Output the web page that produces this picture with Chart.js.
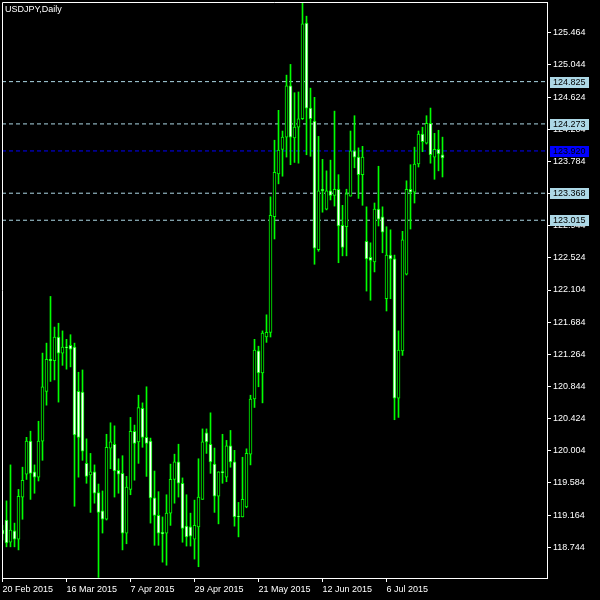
<!DOCTYPE html>
<html lang="en">
<head>
<meta charset="UTF-8">
<title>USDJPY,Daily</title>
<script src="https://cdn.jsdelivr.net/npm/chart.js"></script>
<style>
  html, body { margin: 0; padding: 0; background: #000; }
  canvas { display: block; }
</style>
</head>
<body>
<canvas id="chart" width="600" height="600"></canvas>
<script>
// daily bars, index 0 = 20 Feb 2015 (weekdays only)
const opens = [118.97,119.10,118.81,118.96,118.85,119.40,119.70,120.13,119.73,119.66,
  120.13,120.78,121.20,121.18,121.49,121.28,121.36,121.38,121.36,120.78,
  120.77,119.84,119.69,119.73,119.46,119.22,119.11,120.04,120.09,119.75,
  119.71,118.93,119.50,120.26,120.12,120.56,120.18,120.13,119.39,119.16,
  118.94,118.93,119.19,119.63,119.86,119.58,119.02,119.01,118.85,119.01,
  119.37,120.24,120.09,119.83,119.41,119.73,119.66,120.07,119.86,119.15,
  119.14,119.27,119.96,120.68,121.31,121.02,121.49,121.55,123.06,123.62,
  123.94,124.10,124.77,124.09,124.23,124.34,125.59,124.48,124.31,122.63,
  123.42,123.16,123.40,123.34,123.42,122.95,122.93,123.33,123.92,123.84,
  123.61,122.74,122.53,122.47,123.16,123.06,121.99,122.56,122.51,120.69,
  121.31,122.31,123.42,123.38,123.75,124.14,124.02,124.28,123.84,123.94,
  123.87];
const highs = [119.03,119.35,119.82,119.06,119.50,119.79,120.18,120.26,119.82,120.39,
  121.28,121.41,122.02,121.62,121.67,121.57,121.46,121.52,121.41,121.03,
  121.06,120.16,119.97,119.82,119.57,119.48,120.22,120.37,120.33,119.90,
  119.94,119.67,120.44,120.34,120.73,120.63,120.84,120.17,119.74,119.47,
  119.14,119.43,119.83,119.96,120.09,119.65,119.43,119.19,119.36,119.90,
  120.29,120.29,120.50,120.04,119.73,120.22,120.14,120.27,120.01,119.33,
  119.92,120.03,120.73,121.46,121.37,121.57,121.78,123.32,124.06,124.45,
  124.18,124.91,125.05,124.68,124.69,125.85,125.68,124.74,124.62,124.11,
  123.81,123.66,123.80,124.44,123.61,123.21,123.42,124.18,124.38,123.96,
  123.98,123.19,122.72,123.24,123.72,123.19,122.93,122.89,122.56,121.57,
  122.87,123.53,123.74,123.97,124.18,124.23,124.38,124.48,124.15,124.19,
  124.10];
const lows = [118.84,118.75,118.75,118.75,118.71,119.11,119.63,119.37,119.45,119.61,
  119.88,120.60,120.91,120.93,120.64,121.12,121.07,121.10,119.28,119.66,
  119.88,119.58,119.20,119.32,118.35,118.93,119.10,119.77,119.40,119.45,
  118.71,118.79,119.43,119.62,119.84,120.05,119.67,119.06,118.77,118.77,
  118.55,118.51,119.03,119.32,119.40,118.81,118.76,118.76,118.59,118.49,
  119.37,119.97,119.71,119.20,119.05,119.58,119.60,119.79,119.02,118.88,
  119.14,119.26,119.82,120.57,120.84,120.63,121.42,121.49,122.77,123.49,
  123.59,123.84,123.74,123.77,123.76,124.33,123.87,123.85,122.44,122.61,
  123.12,123.15,123.28,123.20,122.46,122.55,122.55,123.33,123.70,123.30,
  123.21,122.09,121.97,122.34,122.94,122.59,121.83,121.99,120.41,120.44,
  121.25,122.30,122.90,123.24,123.71,123.91,124.01,123.76,123.55,123.66,
  123.58];
const closes = [118.92,118.80,118.97,118.85,119.41,119.62,120.13,119.71,119.66,120.13,
  120.84,121.20,121.18,121.49,121.28,121.36,121.35,121.33,120.21,120.18,
  120.00,119.67,119.73,119.45,119.20,119.11,120.05,120.12,119.74,119.70,
  118.93,119.53,120.26,120.10,120.57,120.18,120.10,119.39,119.16,118.93,
  118.92,119.19,119.63,119.86,119.58,118.99,118.88,118.89,119.03,119.40,
  120.12,120.12,119.86,119.41,119.73,119.72,120.07,119.86,119.14,119.14,
  119.37,119.97,120.68,121.32,121.02,121.54,121.55,123.08,123.64,123.93,
  124.10,124.77,124.10,124.23,124.34,125.58,124.48,124.34,122.65,123.40,
  123.40,123.40,123.34,123.42,122.94,122.66,123.36,123.92,123.84,123.61,
  123.84,122.51,122.49,123.16,123.03,122.86,122.56,122.51,120.69,121.32,
  122.76,123.42,123.38,123.75,124.14,124.04,124.28,123.87,123.94,123.88,
  123.83];

const xTickIdx = [0, 16, 32, 48, 64, 80, 96];
const xTickLabels = ['20 Feb 2015', '16 Mar 2015', '7 Apr 2015', '29 Apr 2015',
  '21 May 2015', '12 Jun 2015', '6 Jul 2015'];
const yTicks = [125.464, 125.044, 124.624, 124.204, 123.784, 123.364, 122.944, 122.524,
  122.104, 121.684, 121.264, 120.844, 120.424, 120.004, 119.584, 119.164, 118.744];
const levels = [124.825, 124.273, 123.368, 123.015];
const bidPrice = 123.920;

const LIME = '#00ff00';
const LEVEL_COLOR = '#add8e6';
const FONT = { family: 'Liberation Sans', size: 9 };
const X_MIN = -0.125, X_MAX = 136.125;

const bodies = opens.map((o, i) => ({ x: i, y: [o, closes[i]] }));
const wicks = lows.map((l, i) => ({ x: i, y: [l, highs[i]] }));
const levelLine = (v, color) => ({
  type: 'line',
  data: [{ x: X_MIN, y: v }, { x: X_MAX, y: v }],
  borderColor: color,
  borderWidth: 1,
  borderDash: [4, 3],
  pointRadius: 0,
  order: 5
});

// title, frame and price tags on the right scale
const overlay = {
  id: 'overlay',
  afterDatasetsDraw(chart) {
    const { ctx, chartArea: a } = chart;
    ctx.save();
    ctx.strokeStyle = '#fff';
    ctx.lineWidth = 1;
    ctx.beginPath();
    ctx.moveTo(Math.floor(a.left) + 0.5, Math.ceil(a.bottom));
    ctx.lineTo(Math.floor(a.left) + 0.5, Math.floor(a.top) + 0.5);
    ctx.lineTo(Math.ceil(a.right), Math.floor(a.top) + 0.5);
    ctx.stroke();
    ctx.restore();
  },
  afterDraw(chart) {
    const { ctx } = chart;
    const y = chart.scales.y;
    ctx.save();
    ctx.font = FONT.size + 'px ' + FONT.family;
    ctx.textBaseline = 'top';
    ctx.fillStyle = '#fff';
    ctx.fillText('USDJPY,Daily', 5, 5);

    ctx.textBaseline = 'middle';
    const tag = (v, bg, fg) => {
      const py = Math.round(y.getPixelForValue(v));
      ctx.fillStyle = bg;
      ctx.fillRect(550, py - 5, 39, 11);
      ctx.fillStyle = fg;
      ctx.fillText(v.toFixed(3), 553, py + 0.5);
    };
    levels.forEach(v => tag(v, LEVEL_COLOR, '#000'));
    tag(bidPrice, '#0000ff', '#000');
    ctx.restore();
  }
};

new Chart(document.getElementById('chart'), {
  type: 'bar',
  data: {
    datasets: [
      {
        data: bodies,
        barThickness: 3,
        borderWidth: 1,
        borderSkipped: false,
        borderColor: LIME,
        minBarLength: 1,
        backgroundColor: ctx => {
          const r = ctx.raw;
          return r && r.y[1] < r.y[0] ? '#ffffff' : '#000000';
        },
        grouped: false,
        order: 1
      },
      {
        data: wicks,
        barThickness: 1,
        borderWidth: 0,
        backgroundColor: LIME,
        grouped: false,
        order: 2
      },
      ...levels.map(v => levelLine(v, LEVEL_COLOR)),
      levelLine(bidPrice, '#0000ff')
    ]
  },
  options: {
    responsive: false,
    animation: false,
    events: [],
    layout: { padding: { left: 2, top: 2, right: 0, bottom: 0 } },
    plugins: { legend: { display: false }, tooltip: { enabled: false } },
    scales: {
      x: {
        type: 'linear',
        offset: false,
        min: X_MIN,
        max: X_MAX,
        afterBuildTicks: s => { s.ticks = xTickIdx.map(v => ({ value: v })); },
        afterFit: s => { s.height = 22; s.paddingLeft = 0; s.paddingRight = 0; },
        grid: { offset: false, drawOnChartArea: false, drawTicks: true, tickLength: 4, color: '#fff' },
        border: { display: true, color: '#fff', width: 1 },
        ticks: {
          color: '#fff',
          font: FONT,
          padding: 2,
          align: 'start',
          maxRotation: 0,
          autoSkip: false,
          callback: (v, i) => xTickLabels[i]
        }
      },
      y: {
        position: 'right',
        min: 118.343,
        max: 125.865,
        afterBuildTicks: s => { s.ticks = yTicks.map(v => ({ value: v })); },
        afterFit: s => { s.width = 53; s.paddingTop = 0; s.paddingBottom = 0; },
        grid: { drawOnChartArea: false, drawTicks: true, tickLength: 4, color: '#fff' },
        border: { display: true, color: '#fff', width: 1 },
        ticks: {
          color: '#fff',
          font: FONT,
          padding: 2,
          autoSkip: false,
          callback: v => Number(v).toFixed(3)
        }
      }
    }
  },
  plugins: [overlay]
});
</script>
</body>
</html>
